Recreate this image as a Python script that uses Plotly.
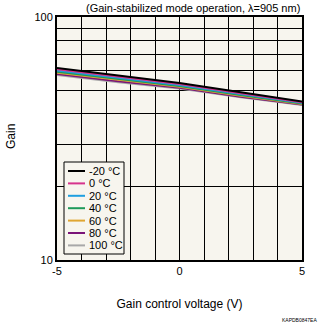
import plotly.graph_objects as go

voltage = [-5, -2.5, 0, 2.5, 5]
temps = ["-20 °C", "0 °C", "20 °C", "40 °C", "60 °C", "80 °C", "100 °C"]
gain_m20 = [61.7, 57.3, 53.5, 49.0, 44.9]
gain_0 = [61.0, 56.8, 53.0, 48.6, 44.6]
gain_20 = [60.3, 56.2, 52.5, 48.2, 44.4]
gain_40 = [59.6, 55.6, 52.0, 47.8, 44.1]
gain_60 = [58.9, 55.0, 51.6, 47.4, 43.8]
gain_80 = [58.3, 54.4, 51.2, 47.0, 43.6]
gain_100 = [57.7, 53.9, 50.8, 46.7, 43.4]
series = [gain_m20, gain_0, gain_20, gain_40, gain_60, gain_80, gain_100]
colors = ["#000000", "#D6338C", "#1E9FE0", "#1E9A5A", "#E0A632", "#7A1478", "#A8A8A8"]

x_ticks = list(range(-5, 6))
x_ticklabels = ["-5", "", "", "", "", "0", "", "", "", "", "5"]
y_ticks = [10, 20, 30, 40, 50, 60, 70, 80, 90, 100]
y_ticklabels = ["10", "", "", "", "", "", "", "", "", "100"]

FONT = "Liberation Sans, Arial, sans-serif"
W, H = 336, 334
ML, MR, MT, MB = 57, 34, 17, 74
PW, PH = W - ML - MR, H - MT - MB


def px(xpix):
    return (xpix - ML) / PW


def py(ypix):
    return (H - MB - ypix) / PH


fig = go.Figure()
for i in reversed(range(len(series))):
    fig.add_trace(go.Scatter(x=voltage, y=series[i], mode="lines", name=temps[i],
                             line=dict(color=colors[i], width=2), showlegend=False))

# manual legend (compact spacing)
shapes = [dict(type="rect", xref="paper", yref="paper", x0=px(64), x1=px(124),
               y0=py(254), y1=py(162), line=dict(color="black", width=1),
               fillcolor="#F7F5EE", layer="above")]
annotations = []
for i, (t, c) in enumerate(zip(temps, colors)):
    yy = 171 + 12.4 * i
    shapes.append(dict(type="line", xref="paper", yref="paper", x0=px(68), x1=px(85),
                       y0=py(yy), y1=py(yy), line=dict(color=c, width=2), layer="above"))
    annotations.append(dict(text=t, xref="paper", yref="paper", x=px(87), y=py(yy),
                            xanchor="left", yanchor="middle", showarrow=False,
                            font=dict(size=11)))

annotations += [
    dict(text="(Gain-stabilized mode operation, λ=905 nm)", xref="paper", yref="paper",
         x=1.0, y=1.0, xanchor="right", yanchor="bottom", showarrow=False,
         font=dict(size=11), yshift=1),
    dict(text="Gain", xref="paper", yref="paper", x=px(11), y=py(137),
         xanchor="center", yanchor="middle", showarrow=False, textangle=-90,
         font=dict(size=12)),
    dict(text="KAPDB0847EA", xref="paper", yref="paper", x=px(319), y=py(320),
         xanchor="right", yanchor="middle", showarrow=False, font=dict(size=5)),
]

fig.update_layout(
    width=W, height=H,
    margin=dict(l=ML, r=MR, t=MT, b=MB, autoexpand=False),
    paper_bgcolor="white", plot_bgcolor="#F7F5EE",
    font=dict(family=FONT, size=11, color="black"),
    showlegend=False,
    xaxis=dict(range=[-5, 5], tickvals=x_ticks, ticktext=x_ticklabels,
               showgrid=True, gridcolor="black", gridwidth=1,
               showline=True, linecolor="black", linewidth=2, mirror=True,
               zeroline=False, ticks="", tickfont=dict(size=11), automargin=False,
               title=dict(text="Gain control voltage (V)", font=dict(size=12), standoff=23)),
    yaxis=dict(type="log", range=[1, 2], tickvals=y_ticks, ticktext=y_ticklabels,
               showgrid=True, gridcolor="black", gridwidth=1,
               showline=True, linecolor="black", linewidth=2, mirror=True,
               zeroline=False, ticks="", tickfont=dict(size=11), automargin=False),
    shapes=shapes,
    annotations=annotations,
)
fig.write_html("out.html")
